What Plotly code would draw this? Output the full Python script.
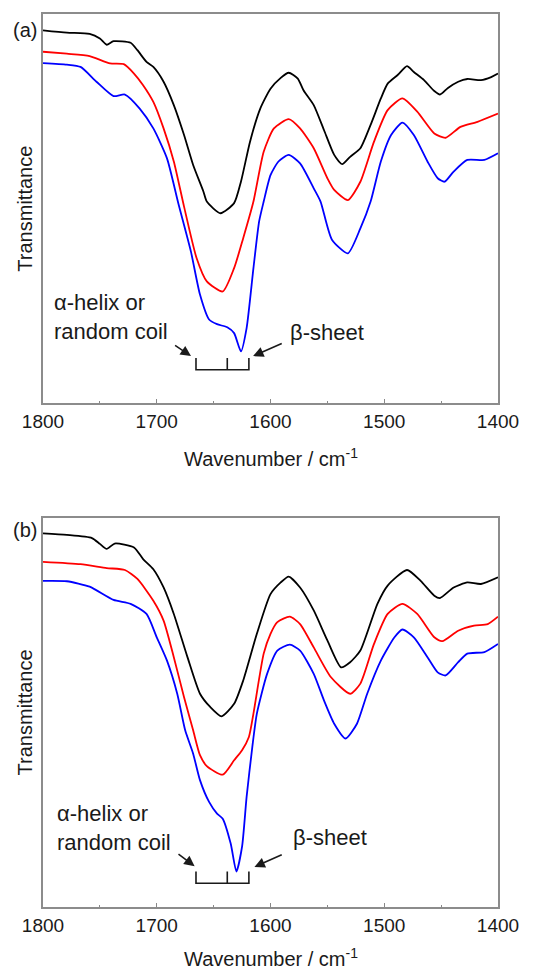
import plotly.graph_objects as go

# ---------------- data ----------------
# Panel (a)
a_black_wn = [1800, 1779, 1759, 1750, 1744, 1738, 1723, 1717, 1709, 1703, 1694, 1685, 1676, 1668, 1659, 1656,
              1644, 1632, 1626, 1618, 1609, 1600, 1591, 1584, 1576, 1571, 1562, 1553, 1544, 1537, 1530, 1521,
              1512, 1503, 1497, 1488, 1480, 1474, 1465, 1456, 1451, 1444, 1435, 1427, 1415, 1406, 1400]
a_black_t = [95.8, 95.2, 94.9, 93.7, 92.1, 93.0, 92.6, 90.7, 87.7, 86.4, 82.6, 76.6, 68.9, 61.2, 54.4, 51.8,
             48.8, 51.4, 56.9, 67.2, 75.7, 80.8, 83.6, 84.9, 83.4, 80.4, 76.6, 70.2, 63.8, 61.4, 63.3, 65.5,
             71.5, 78.3, 82.1, 84.4, 86.6, 85.1, 83.0, 80.2, 79.3, 81.0, 82.6, 83.3, 83.0, 83.8, 84.7]

a_red_wn = [1800, 1779, 1759, 1741, 1729, 1720, 1712, 1703, 1694, 1685, 1676, 1665, 1656, 1642, 1632,
            1624, 1615, 1606, 1597, 1584, 1574, 1562, 1550, 1544, 1532, 1521, 1509, 1497, 1484, 1471, 1456,
            1446, 1433, 1418, 1400]
a_red_t = [90.3, 89.8, 89.2, 87.3, 87.1, 84.7, 81.7, 77.4, 70.6, 62.1, 50.5, 37.3, 31.3, 28.7, 34.7,
           42.4, 51.8, 64.6, 70.6, 73.0, 70.6, 65.5, 57.8, 54.8, 52.2, 56.9, 67.2, 75.3, 78.3, 74.9, 69.3,
           68.2, 71.0, 72.3, 74.4]

a_blue_wn = [1800, 1779, 1767, 1753, 1738, 1728, 1715, 1703, 1691, 1681, 1670, 1662, 1654, 1647, 1638,
             1632, 1626, 1621, 1615, 1610, 1606, 1600, 1593, 1584, 1574, 1562, 1556, 1546, 1532, 1521, 1512,
             1503, 1494, 1484, 1474, 1462, 1453, 1447, 1439, 1427, 1412, 1400]
a_blue_t = [87.4, 87.0, 86.4, 82.6, 78.9, 79.3, 75.7, 70.6, 62.9, 51.3, 39.0, 27.9, 21.5, 20.3, 19.5,
            18.0, 13.3, 19.3, 34.7, 46.7, 51.8, 58.6, 62.1, 63.8, 61.6, 55.2, 51.8, 42.0, 38.5, 44.9, 51.8,
            62.1, 68.9, 72.1, 68.9, 62.1, 57.8, 56.9, 59.5, 62.5, 62.5, 64.2]

# Panel (b)
b_black_wn = [1800, 1779, 1757, 1750, 1744, 1737, 1720, 1712, 1703, 1694, 1685, 1673, 1662, 1653, 1643, 1632,
              1624, 1612, 1600, 1591, 1584, 1574, 1562, 1550, 1538, 1530, 1521, 1506, 1497, 1480, 1468, 1456,
              1451, 1439, 1427, 1415, 1400]
b_black_t = [96.0, 95.6, 94.8, 93.3, 92.0, 93.4, 92.4, 89.4, 86.8, 82.1, 75.3, 64.2, 54.8, 51.4, 49.0, 52.2,
             58.2, 70.2, 80.4, 83.4, 84.9, 82.1, 76.2, 68.5, 61.6, 62.9, 65.9, 77.9, 82.6, 86.6, 83.8, 80.0,
             79.4, 82.1, 83.4, 83.0, 84.7]

b_red_wn = [1800, 1767, 1744, 1728, 1717, 1703, 1694, 1685, 1676, 1668, 1662, 1656, 1642, 1632, 1625, 1619,
            1615, 1606, 1600, 1594, 1583, 1574, 1562, 1547, 1530, 1521, 1509, 1497, 1484, 1471, 1456, 1449,
            1435, 1421, 1409, 1400]
b_red_t = [88.7, 88.1, 87.1, 86.6, 84.3, 78.7, 73.6, 64.2, 53.9, 45.4, 39.0, 36.2, 34.0, 37.7, 40.3, 43.7,
           49.7, 65.1, 70.2, 73.2, 74.6, 72.7, 66.7, 59.1, 54.8, 57.4, 67.6, 75.3, 77.9, 75.3, 69.3, 68.3,
           71.0, 72.3, 72.7, 74.6]

b_blue_wn = [1800, 1779, 1759, 1738, 1723, 1709, 1700, 1691, 1682, 1675, 1668, 1662, 1654, 1647, 1642, 1635,
             1630, 1625, 1621, 1616, 1612, 1603, 1594, 1583, 1574, 1562, 1553, 1544, 1534, 1524, 1515, 1503,
             1491, 1484, 1474, 1462, 1453, 1446, 1435, 1427, 1412, 1400]
b_blue_t = [83.8, 83.7, 82.3, 78.9, 77.9, 75.3, 69.3, 63.3, 54.8, 45.4, 39.4, 32.6, 27.0, 24.0, 22.7, 16.3,
            9.1, 15.5, 28.3, 41.1, 49.7, 59.9, 65.9, 67.4, 65.9, 59.9, 53.1, 47.1, 43.3, 47.1, 54.8, 63.3,
            69.3, 71.3, 69.3, 64.2, 60.3, 59.5, 62.9, 65.1, 65.5, 67.6]

tick_vals = [1800, 1700, 1600, 1500, 1400]
tick_text = ["1800", "1700", "1600", "1500", "1400"]
panel_labels = ["(a)", "(b)"]
helix_text = "α-helix or<br>random coil"
sheet_text = "β-sheet"
x_title = "Wavenumber / cm<sup>-1</sup>"
y_title = "Transmittance"

# bracket (wavenumbers) and T levels per panel
bracket_wn = [1665.5, 1638.0, 1619.0]
bracket_t = {"a": (11.6, 8.6), "b": (9.1, 6.1)}
# annotation anchors (wn, T)
helix_pos = {"a": (1792, 22.2), "b": (1789.4, 20.4)}
sheet_pos = {"a": (1585, 18.2), "b": (1582.4, 17.9)}
arrow_left = {"a": ((1685.2, 15.1), (1669.9, 12.1)), "b": ((1682.2, 13.9), (1666.7, 10.5))}
arrow_right = {"a": ((1588.8, 15.5), (1615.3, 12.1)), "b": ((1588.8, 13.6), (1614.1, 10.3))}

FONT = "Liberation Sans, Arial, sans-serif"
colors = {"black": "#000000", "red": "#ff0000", "blue": "#0000ff"}

fig = go.Figure()
panels = [
    ("a", "x", "y", [(a_black_wn, a_black_t, "black"), (a_red_wn, a_red_t, "red"), (a_blue_wn, a_blue_t, "blue")]),
    ("b", "x2", "y2", [(b_black_wn, b_black_t, "black"), (b_red_wn, b_red_t, "red"), (b_blue_wn, b_blue_t, "blue")]),
]
for key, xa, ya, series in panels:
    for wn, t, c in series:
        fig.add_trace(go.Scatter(x=wn, y=t, mode="lines", xaxis=xa, yaxis=ya,
                                 line=dict(color=colors[c], width=1.8, shape="spline", smoothing=0.6),
                                 showlegend=False, hoverinfo="skip"))

axis_common = dict(
    range=[1800, 1400], tickvals=tick_vals, ticktext=tick_text,
    ticks="inside", ticklen=4, tickwidth=1, tickcolor="#888888",
    minor=dict(ticks="inside", ticklen=2, tickwidth=1, tickcolor="#888888", dtick=50, showgrid=False),
    showline=True, linecolor="#8c8c8c", linewidth=1.5, mirror=True,
    showgrid=False, zeroline=False,
    tickfont=dict(family=FONT, size=19, color="#1a1a1a"),
)
yaxis_common = dict(range=[0, 100], showticklabels=False, ticks="", showline=True, linecolor="#8c8c8c",
                    linewidth=1.5, mirror=True, showgrid=False, zeroline=False)

fig.update_layout(
    width=554, height=972,
    margin=dict(l=43, r=56, t=12, b=65),
    paper_bgcolor="white", plot_bgcolor="white",
    xaxis=dict(anchor="y", domain=[0, 1], **axis_common),
    yaxis=dict(anchor="x", domain=[0.5642, 1.0], **yaxis_common),
    xaxis2=dict(anchor="y2", domain=[0, 1], **axis_common),
    yaxis2=dict(anchor="x2", domain=[0.0, 0.4358], **yaxis_common),
    showlegend=False,
)

ann = []
# axis titles and panel labels
for yp in (0.5028, -0.0570):
    ann.append(dict(text=x_title, xref="paper", yref="paper", x=0.5, y=yp, showarrow=False,
                    xanchor="center", yanchor="middle", font=dict(family=FONT, size=20, color="#1a1a1a")))
for yp in (0.782, 0.2179):
    ann.append(dict(text=y_title, xref="paper", yref="paper", x=-0.0396, y=yp, showarrow=False,
                    textangle=-90, xanchor="center", yanchor="middle",
                    font=dict(family=FONT, size=20, color="#1a1a1a")))
for lbl, yp in zip(panel_labels, (0.982, 0.4223)):
    ann.append(dict(text=lbl, xref="paper", yref="paper", x=-0.0396, y=yp, showarrow=False,
                    xanchor="center", yanchor="middle", font=dict(family=FONT, size=20, color="#1a1a1a")))

shapes = []
for key, xa, ya in (("a", "x", "y"), ("b", "x2", "y2")):
    hx, hy = helix_pos[key]
    ann.append(dict(text=helix_text, x=hx, y=hy, xref=xa, yref=ya, showarrow=False, align="left",
                    xanchor="left", yanchor="middle", font=dict(family=FONT, size=22, color="#1a1a1a")))
    sx, sy = sheet_pos[key]
    ann.append(dict(text=sheet_text, x=sx, y=sy, xref=xa, yref=ya, showarrow=False,
                    xanchor="left", yanchor="middle", font=dict(family=FONT, size=22, color="#1a1a1a")))
    for (tail, head) in (arrow_left[key], arrow_right[key]):
        ann.append(dict(text="", x=head[0], y=head[1], ax=tail[0], ay=tail[1], xref=xa, yref=ya,
                        axref=xa, ayref=ya, showarrow=True, arrowhead=2, arrowsize=1.3, arrowwidth=1.6,
                        arrowcolor="#1a1a1a"))
    top, bot = bracket_t[key]
    l, m, r = bracket_wn
    path = f"M {l},{top} L {l},{bot} L {r},{bot} L {r},{top} M {m},{bot} L {m},{top}"
    shapes.append(dict(type="path", path=path, xref=xa, yref=ya, line=dict(color="#1a1a1a", width=1.6)))

fig.update_layout(annotations=ann, shapes=shapes)
fig.write_html("out.html", config={"displayModeBar": False},
               post_script="document.body.style.margin='0';document.body.style.overflow='hidden';")
